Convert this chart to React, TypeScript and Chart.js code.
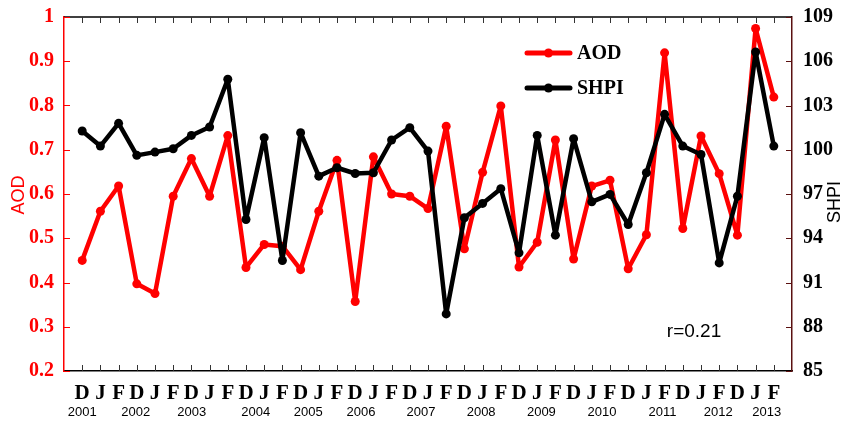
import React, { useEffect, useRef } from 'react';
import { Chart, registerables } from 'chart.js';

Chart.register(...registerables);

const seasonLabels = [
  'D', 'J', 'F', 'D', 'J', 'F', 'D', 'J', 'F', 'D', 'J', 'F', 'D', 'J', 'F',
  'D', 'J', 'F', 'D', 'J', 'F', 'D', 'J', 'F', 'D', 'J', 'F', 'D', 'J', 'F',
  'D', 'J', 'F', 'D', 'J', 'F', 'D', 'J', 'F',
];

const aodValues = [
  0.45, 0.561, 0.618, 0.397, 0.375, 0.595, 0.68, 0.595, 0.732, 0.434,
  0.486, 0.482, 0.429, 0.561, 0.676, 0.357, 0.684, 0.6, 0.595, 0.567,
  0.753, 0.476, 0.649, 0.799, 0.435, 0.491, 0.722, 0.453, 0.618, 0.631,
  0.431, 0.508, 0.919, 0.522, 0.731, 0.646, 0.507, 0.974, 0.819,
];

const shpiValues = [
  101.27, 100.25, 101.79, 99.62, 99.84, 100.07, 100.97, 101.54, 104.78, 95.27,
  100.82, 92.49, 101.16, 98.21, 98.78, 98.39, 98.44, 100.66, 101.5, 99.91,
  88.87, 95.39, 96.36, 97.36, 93.01, 100.97, 94.21, 100.75, 96.47, 96.97,
  94.93, 98.44, 102.4, 100.25, 99.68, 92.33, 96.85, 106.63, 100.25,
];

const yearLabels = ['2001', '2002', '2003', '2004', '2005', '2006', '2007', '2008', '2009', '2010', '2011', '2012', '2013'];
const yearPositions = [1.0, 3.94, 7.02, 10.54, 13.42, 16.32, 19.62, 22.92, 26.23, 29.56, 32.89, 35.95, 38.61];

const RED = '#ff0000';
const DARKRED = '#5a1010';

const decorPlugin = {
  id: 'decor',
  afterDraw(chart: any) {
    const { ctx, chartArea: ca, scales } = chart;
    const x = scales.x;
    const yL = scales.y;
    const yR = scales.y1;
    ctx.save();
    ctx.strokeStyle = '#000';
    ctx.lineWidth = 1.5;
    ctx.beginPath();
    ctx.moveTo(ca.left, ca.top);
    ctx.lineTo(ca.right, ca.top);
    ctx.stroke();
    ctx.lineWidth = 1;
    ctx.strokeStyle = '#333';
    seasonLabels.forEach((_, i) => {
      const px = Math.round(x.getPixelForValue(i + 1)) + 0.5;
      ctx.beginPath();
      ctx.moveTo(px, ca.top);
      ctx.lineTo(px, ca.top + 6);
      ctx.moveTo(px, ca.bottom);
      ctx.lineTo(px, ca.bottom - 6);
      ctx.stroke();
    });
    ctx.strokeStyle = RED;
    yL.ticks.forEach((t: any) => {
      const py = Math.round(yL.getPixelForValue(t.value)) + 0.5;
      ctx.beginPath();
      ctx.moveTo(ca.left, py);
      ctx.lineTo(ca.left + 6, py);
      ctx.stroke();
    });
    ctx.strokeStyle = DARKRED;
    yR.ticks.forEach((t: any) => {
      const py = Math.round(yR.getPixelForValue(t.value)) + 0.5;
      ctx.beginPath();
      ctx.moveTo(ca.right, py);
      ctx.lineTo(ca.right - 6, py);
      ctx.stroke();
    });
    ctx.fillStyle = '#000';
    ctx.font = '13px "Liberation Sans", Arial, sans-serif';
    ctx.textAlign = 'center';
    ctx.textBaseline = 'middle';
    yearLabels.forEach((lab, i) => {
      ctx.fillText(lab, x.getPixelForValue(yearPositions[i]), 412);
    });
    ctx.font = '18px "Liberation Sans", Arial, sans-serif';
    ctx.save();
    ctx.translate(19, (ca.top + ca.bottom) / 2 + 1);
    ctx.rotate(-Math.PI / 2);
    ctx.fillStyle = RED;
    ctx.fillText('AOD', 0, 0);
    ctx.restore();
    ctx.save();
    ctx.translate(835, (ca.top + ca.bottom) / 2 + 8);
    ctx.rotate(-Math.PI / 2);
    ctx.fillStyle = '#000';
    ctx.fillText('SHPI', 0, 0);
    ctx.restore();
    ctx.font = '19px "Liberation Sans", Arial, sans-serif';
    ctx.fillStyle = '#000';
    ctx.fillText('r=0.21', 694, 332);
    const items = [
      { label: 'AOD', color: RED, y: 53 },
      { label: 'SHPI', color: '#000', y: 88 },
    ];
    items.forEach((it) => {
      ctx.strokeStyle = it.color;
      ctx.lineWidth = 5;
      ctx.lineCap = 'round';
      ctx.beginPath();
      ctx.moveTo(527, it.y);
      ctx.lineTo(570, it.y);
      ctx.stroke();
      ctx.fillStyle = it.color;
      ctx.beginPath();
      ctx.arc(548.5, it.y, 4.5, 0, Math.PI * 2);
      ctx.fill();
      ctx.fillStyle = '#000';
      ctx.font = 'bold 20px "Liberation Serif", "Times New Roman", serif';
      ctx.textAlign = 'left';
      ctx.fillText(it.label, 577, it.y + 1);
    });
    ctx.restore();
  },
};

export default function App() {
  const ref = useRef<HTMLCanvasElement>(null);
  useEffect(() => {
    if (!ref.current) return;
    const chart = new Chart(ref.current, {
      type: 'line',
      data: {
        datasets: [
          {
            label: 'SHPI',
            data: shpiValues.map((v, i) => ({ x: i + 1, y: v })),
            yAxisID: 'y1',
            borderColor: '#000',
            backgroundColor: '#000',
            borderWidth: 4.5,
            borderJoinStyle: 'round',
            borderCapStyle: 'round',
            pointRadius: 4.5,
            pointBorderWidth: 0,
            order: 0,
          },
          {
            label: 'AOD',
            data: aodValues.map((v, i) => ({ x: i + 1, y: v })),
            yAxisID: 'y',
            borderColor: RED,
            backgroundColor: RED,
            borderWidth: 4.5,
            borderJoinStyle: 'round',
            borderCapStyle: 'round',
            pointRadius: 4.5,
            pointBorderWidth: 0,
            order: 1,
          },
        ],
      },
      options: {
        responsive: false,
        animation: false,
        devicePixelRatio: 1,
        layout: { padding: { top: 17, left: 0, right: 0, bottom: 0 } },
        plugins: { legend: { display: false }, tooltip: { enabled: false } },
        scales: {
          x: {
            type: 'linear',
            min: 0,
            max: 40,
            afterBuildTicks: (scale: any) => {
              scale.ticks = seasonLabels.map((_, i) => ({ value: i + 1 }));
            },
            afterFit: (scale: any) => {
              scale.height = 52;
            },
            grid: { display: false },
            border: { display: true, color: '#000', width: 1.5 },
            ticks: {
              autoSkip: false,
              maxRotation: 0,
              padding: 2,
              color: '#000',
              font: { family: '"Liberation Serif", "Times New Roman", serif', size: 21, weight: 'bold' },
              callback: (v: any) => seasonLabels[Math.round(v) - 1] ?? '',
            },
          },
          y: {
            position: 'left',
            min: 0.2,
            max: 1,
            afterFit: (scale: any) => {
              scale.width = 64;
            },
            grid: { display: false },
            border: { display: true, color: RED, width: 1.5 },
            ticks: {
              stepSize: 0.1,
              padding: 2,
              color: RED,
              font: { family: '"Liberation Serif", "Times New Roman", serif', size: 20, weight: 'bold' },
              callback: (v: any) => (Math.abs(v - 1) < 1e-9 ? '1' : Number(v).toFixed(1)),
            },
          },
          y1: {
            position: 'right',
            min: 85,
            max: 109,
            afterFit: (scale: any) => {
              scale.width = 56;
            },
            grid: { display: false },
            border: { display: true, color: DARKRED, width: 1.5 },
            ticks: {
              stepSize: 3,
              padding: 3,
              color: '#000',
              font: { family: '"Liberation Serif", "Times New Roman", serif', size: 20, weight: 'bold' },
            },
          },
        },
      },
      plugins: [decorPlugin],
    });
    return () => chart.destroy();
  }, []);
  return (
    <div style={{ position: 'fixed', left: 0, top: 0, width: 848, height: 423, background: '#fff' }}>
      <canvas ref={ref} width={848} height={423} style={{ width: 848, height: 423, display: 'block' }} />
    </div>
  );
}
